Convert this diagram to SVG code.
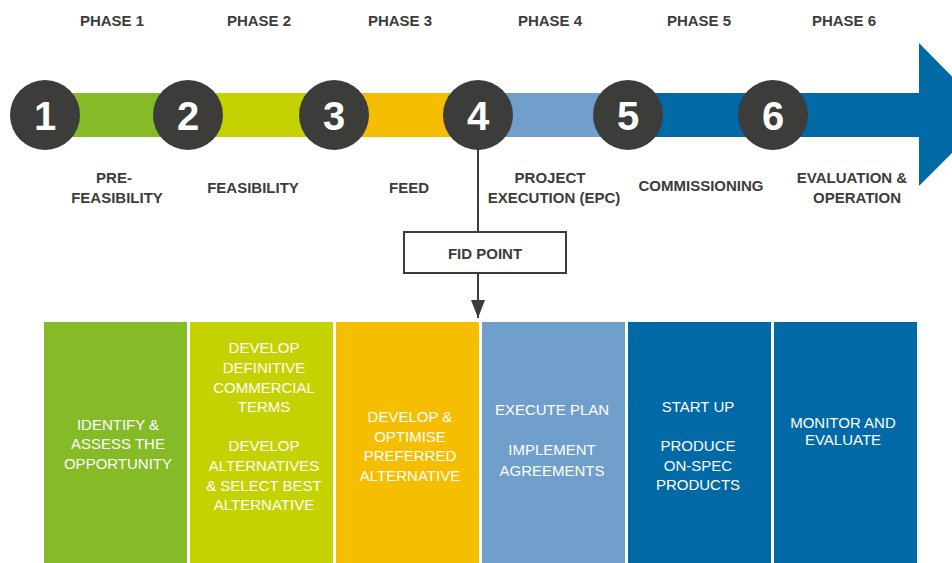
<svg xmlns="http://www.w3.org/2000/svg" width="952" height="563" viewBox="0 0 952 563">
<defs>
<style>
.ph{font-family:"Liberation Sans",Arial,sans-serif;font-weight:bold;font-size:15px;fill:#3c3c3b;text-anchor:middle}
.num{font-family:"Liberation Sans",Arial,sans-serif;font-weight:bold;font-size:40px;fill:#ffffff;text-anchor:middle}
.bx{font-family:"Liberation Sans",Arial,sans-serif;font-size:15px;fill:#ffffff;text-anchor:middle}
.dot{fill:#3c3c3b}
.conn{stroke:#3c3c3b;stroke-width:2;fill:none}
</style>
<marker id="ah" viewBox="0 0 18 14" refX="18" refY="7" markerWidth="18" markerHeight="14" markerUnits="userSpaceOnUse" orient="auto">
<path d="M0,0 L18,7 L0,14 Z" fill="#3c3c3b"/>
</marker>
</defs>
<rect width="952" height="563" fill="#ffffff"/>

<g id="phase-labels">
<text class="ph" x="112" y="26">PHASE 1</text>
<text class="ph" x="259" y="26">PHASE 2</text>
<text class="ph" x="400" y="26">PHASE 3</text>
<text class="ph" x="550" y="26">PHASE 4</text>
<text class="ph" x="699" y="26">PHASE 5</text>
<text class="ph" x="844" y="26">PHASE 6</text>
</g>

<g id="timeline-bar">
<rect x="45" y="93" width="143" height="44" fill="#84bb26"/>
<rect x="188" y="93" width="146" height="44" fill="#c4d300"/>
<rect x="334" y="93" width="144" height="44" fill="#f6be00"/>
<rect x="478" y="93" width="150" height="44" fill="#6f9fca"/>
<polygon points="628,93 919,93 919,43 990,115 919,186 919,137 628,137" fill="#0069a6"/>
</g>

<g id="connectors">
<line class="conn" x1="478" y1="140" x2="478" y2="232"/>
<line class="conn" x1="478" y1="273" x2="478" y2="318" marker-end="url(#ah)"/>
</g>

<g id="step-1"><circle class="dot" cx="45" cy="115" r="35"/><text class="num" x="45" y="130">1</text></g>
<g id="step-2"><circle class="dot" cx="188" cy="115" r="35"/><text class="num" x="188" y="130">2</text></g>
<g id="step-3"><circle class="dot" cx="334" cy="115" r="35"/><text class="num" x="334" y="130">3</text></g>
<g id="step-4"><circle class="dot" cx="478" cy="115" r="35"/><text class="num" x="478" y="130">4</text></g>
<g id="step-5"><circle class="dot" cx="628" cy="115" r="35"/><text class="num" x="628" y="130">5</text></g>
<g id="step-6"><circle class="dot" cx="773" cy="115" r="35"/><text class="num" x="773" y="130">6</text></g>

<g id="stage-labels">
<text class="ph" x="114" y="183">PRE-</text>
<text class="ph" x="117" y="203">FEASIBILITY</text>
<text class="ph" x="253" y="193">FEASIBILITY</text>
<text class="ph" x="409" y="193">FEED</text>
<text class="ph" x="550" y="183">PROJECT</text>
<text class="ph" x="554" y="203">EXECUTION (EPC)</text>
<text class="ph" x="701" y="191">COMMISSIONING</text>
<text class="ph" x="852" y="183">EVALUATION &amp;</text>
<text class="ph" x="857" y="203">OPERATION</text>
</g>

<g id="fid-point">
<rect x="404" y="232" width="162" height="41" fill="#ffffff" stroke="#3c3c3b" stroke-width="2"/>
<text class="ph" x="485" y="259">FID POINT</text>
</g>

<g id="box-1">
<rect x="44" y="322" width="143" height="241" fill="#84bb26"/>
<text class="bx" x="118" y="430">IDENTIFY &amp;</text>
<text class="bx" x="118" y="449">ASSESS THE</text>
<text class="bx" x="118" y="469">OPPORTUNITY</text>
</g>
<g id="box-2">
<rect x="190" y="322" width="143" height="241" fill="#c4d300"/>
<text class="bx" x="264" y="353">DEVELOP</text>
<text class="bx" x="264" y="373">DEFINITIVE</text>
<text class="bx" x="264" y="393">COMMERCIAL</text>
<text class="bx" x="264" y="412">TERMS</text>
<text class="bx" x="264" y="451">DEVELOP</text>
<text class="bx" x="264" y="471">ALTERNATIVES</text>
<text class="bx" x="264" y="491">&amp; SELECT BEST</text>
<text class="bx" x="264" y="510">ALTERNATIVE</text>
</g>
<g id="box-3">
<rect x="336" y="322" width="143" height="241" fill="#f6be00"/>
<text class="bx" x="410" y="422">DEVELOP &amp;</text>
<text class="bx" x="410" y="442">OPTIMISE</text>
<text class="bx" x="410" y="461">PREFERRED</text>
<text class="bx" x="410" y="481">ALTERNATIVE</text>
</g>
<g id="box-4">
<rect x="482" y="322" width="143" height="241" fill="#6f9fca"/>
<text class="bx" x="552" y="415">EXECUTE PLAN</text>
<text class="bx" x="552" y="455">IMPLEMENT</text>
<text class="bx" x="552" y="476">AGREEMENTS</text>
</g>
<g id="box-5">
<rect x="628" y="322" width="143" height="241" fill="#0069a6"/>
<text class="bx" x="698" y="412">START UP</text>
<text class="bx" x="698" y="451">PRODUCE</text>
<text class="bx" x="698" y="471">ON-SPEC</text>
<text class="bx" x="698" y="490">PRODUCTS</text>
</g>
<g id="box-6">
<rect x="774" y="322" width="143" height="241" fill="#0069a6"/>
<text class="bx" x="843" y="428">MONITOR AND</text>
<text class="bx" x="843" y="445">EVALUATE</text>
</g>
</svg>
